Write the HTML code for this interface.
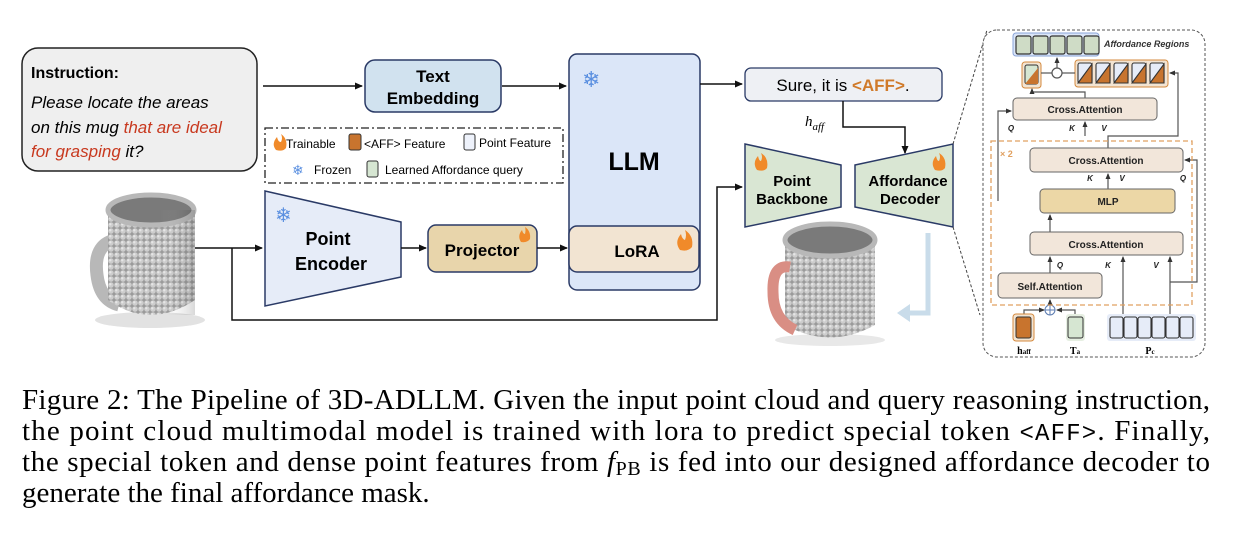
<!DOCTYPE html>
<html><head><meta charset="utf-8"><style>
html,body{margin:0;padding:0;background:#fff;}
svg{display:block;}
.s{font-family:"Liberation Sans",sans-serif;}
.b{font-family:"Liberation Sans",sans-serif;font-weight:bold;}
.cap{font-family:"Liberation Serif",serif;font-size:29px;fill:#000;}
</style></head><body>
<svg width="1243" height="544" viewBox="0 0 1243 544" xmlns="http://www.w3.org/2000/svg">
<defs>
<marker id="ar" markerWidth="8" markerHeight="8" refX="7" refY="4" orient="auto" markerUnits="userSpaceOnUse"><path d="M0,0.5 L8,4 L0,7.5 Z" fill="#111"/></marker>
<marker id="ar2" markerWidth="6" markerHeight="6" refX="5" refY="3" orient="auto" markerUnits="userSpaceOnUse"><path d="M0,0.5 L6,3 L0,5.5 Z" fill="#333"/></marker>
<pattern id="dots" width="6" height="6" patternUnits="userSpaceOnUse"><rect width="6" height="6" fill="#9a9a9a"/><circle cx="3" cy="3" r="2.8" fill="#cdcdcd"/><circle cx="2.3" cy="2.3" r="1.2" fill="#e6e6e6"/></pattern>
<pattern id="pdots" width="6" height="6" patternUnits="userSpaceOnUse"><rect width="6" height="6" fill="#b06a60"/><circle cx="3" cy="3" r="2.6" fill="#e29a8e"/></pattern>
<linearGradient id="sh" x1="0" x2="1"><stop offset="0" stop-color="#fff" stop-opacity="0"/><stop offset="1" stop-color="#000" stop-opacity="0.25"/></linearGradient>
</defs>

<rect x="22" y="48" width="235" height="123" rx="16" fill="#efefef" stroke="#222" stroke-width="1.5"/>
<text x="31" y="78" class="b" font-size="16">Instruction:</text>
<text x="31" y="108" class="s" font-size="17" font-style="italic">Please locate the areas</text>
<text x="31" y="133" class="s" font-size="17" font-style="italic">on this mug <tspan fill="#c8391f">that are ideal</tspan></text>
<text x="31" y="157" class="s" font-size="17" font-style="italic"><tspan fill="#c8391f">for grasping</tspan> it?</text>

<line x1="263" y1="86" x2="362" y2="86" stroke="#111" stroke-width="1.5" marker-end="url(#ar)"/>
<rect x="365" y="60" width="136" height="52" rx="10" fill="#d1e2ef" stroke="#2a3a66" stroke-width="1.5"/>
<text x="433" y="82" class="b" font-size="17" text-anchor="middle">Text</text>
<text x="433" y="104" class="b" font-size="17" text-anchor="middle">Embedding</text>
<line x1="502" y1="86" x2="566" y2="86" stroke="#111" stroke-width="1.5" marker-end="url(#ar)"/>

<rect x="265" y="128" width="298" height="55" fill="none" stroke="#222" stroke-width="1.3" stroke-dasharray="8,3,2,3"/>
<path d="M276,150 q-5,-6 1,-13 q1,5 4,5 q2,-4 0,-8 q7,5 5,14 q-3,4 -10,2z" fill="#f08a2a"/>
<text x="286" y="148" class="s" font-size="12">Trainable</text>
<rect x="349" y="134" width="12" height="16" rx="2" fill="#c8742e" stroke="#333"/>
<text x="364" y="148" class="s" font-size="12">&lt;AFF&gt; Feature</text>
<rect x="464" y="134" width="11" height="16" rx="2" fill="#eef2fb" stroke="#333"/>
<text x="479" y="147" class="s" font-size="12">Point Feature</text>
<text x="292" y="175" font-size="14" fill="#5a8fe0" class="s">❄</text>
<text x="314" y="174" class="s" font-size="12">Frozen</text>
<rect x="367" y="161" width="11" height="16" rx="2" fill="#d6e6d2" stroke="#333"/>
<text x="385" y="174" class="s" font-size="12">Learned Affordance query</text>

<rect x="569" y="54" width="131" height="236" rx="8" fill="#dbe6f8" stroke="#2a3a66" stroke-width="1.5"/>
<text x="582" y="87" font-size="22" fill="#5a8fe0" class="s">❄</text>
<text x="634" y="170" class="b" font-size="25" text-anchor="middle">LLM</text>
<rect x="569" y="226" width="130" height="46" rx="8" fill="#f2e4d2" stroke="#2a3a66" stroke-width="1.5"/>
<text x="637" y="257" class="b" font-size="17" text-anchor="middle">LoRA</text>
<path d="M680,250 q-6,-8 1,-16 q1,5 4,6 q2,-5 0,-10 q9,6 7,17 q-4,5 -12,3z" fill="#f08a2a"/>

<path d="M265,191 L401,222 L401,277 L265,306 Z" fill="#e6ecf8" stroke="#2a3a66" stroke-width="1.5"/>
<text x="275" y="222" font-size="20" fill="#5a8fe0" class="s">❄</text>
<text x="328" y="245" class="b" font-size="18" text-anchor="middle">Point</text>
<text x="331" y="270" class="b" font-size="18" text-anchor="middle">Encoder</text>
<line x1="195" y1="248" x2="262" y2="248" stroke="#111" stroke-width="1.5" marker-end="url(#ar)"/>
<line x1="401" y1="248" x2="426" y2="248" stroke="#111" stroke-width="1.5" marker-end="url(#ar)"/>
<rect x="428" y="225" width="109" height="47" rx="8" fill="#e8d5ab" stroke="#2a3a66" stroke-width="1.5"/>
<text x="482" y="256" class="b" font-size="17" text-anchor="middle">Projector</text>
<path d="M521,242 q-4,-6 1,-12 q1,4 3,4 q1,-4 0,-7 q6,4 5,12 q-3,4 -9,3z" fill="#f08a2a"/>
<line x1="537" y1="248" x2="567" y2="248" stroke="#111" stroke-width="1.5" marker-end="url(#ar)"/>

<polyline points="232,248 232,320 717,320 717,187 742,187" fill="none" stroke="#111" stroke-width="1.5" marker-end="url(#ar)"/>

<line x1="700" y1="84" x2="742" y2="84" stroke="#111" stroke-width="1.5" marker-end="url(#ar)"/>
<rect x="745" y="68" width="197" height="33" rx="6" fill="#eef0f4" stroke="#2a3a66" stroke-width="1.3"/>
<text x="843" y="91" class="s" font-size="17" text-anchor="middle">Sure, it is <tspan fill="#d07a2a" font-weight="bold">&lt;AFF&gt;</tspan>.</text>
<polyline points="843,101 843,127 905,127 905,153" fill="none" stroke="#111" stroke-width="1.5" marker-end="url(#ar)"/>
<text x="805" y="126" font-family="Liberation Serif,serif" font-style="italic" font-size="15">h<tspan font-size="11" dy="4">aff</tspan></text>

<path d="M745,144 L841,165 L841,207 L745,227 Z" fill="#d9e6d3" stroke="#2a3a66" stroke-width="1.5"/>
<path d="M757,170 q-5,-7 1,-14 q1,5 3,5 q2,-4 0,-8 q8,5 6,15 q-3,4 -10,2z" fill="#f08a2a"/>
<text x="792" y="186" class="b" font-size="15" text-anchor="middle">Point</text>
<text x="792" y="204" class="b" font-size="15" text-anchor="middle">Backbone</text>
<path d="M855,165 L953,144 L953,227 L855,207 Z" fill="#d9e6d3" stroke="#2a3a66" stroke-width="1.5"/>
<path d="M935,170 q-5,-7 1,-14 q1,5 3,5 q2,-4 0,-8 q8,5 6,15 q-3,4 -10,2z" fill="#f08a2a"/>
<text x="908" y="186" class="b" font-size="15" text-anchor="middle">Affordance</text>
<text x="910" y="204" class="b" font-size="15" text-anchor="middle">Decoder</text>

<polyline points="928,233 928,313 908,313" fill="none" stroke="#c9dcea" stroke-width="5"/>
<path d="M897,313 L910,304 L910,322 Z" fill="#c9dcea"/>

<line x1="953" y1="144" x2="987" y2="30" stroke="#444" stroke-width="1" stroke-dasharray="3,2"/>
<line x1="953" y1="227" x2="980" y2="315" stroke="#444" stroke-width="1" stroke-dasharray="3,2"/>

<ellipse cx="150" cy="320" rx="55" ry="8" fill="#e2e2e2"/>
<path d="M115,240 q-22,5 -18,35 q3,25 22,30" fill="none" stroke="#b8b8b8" stroke-width="13"/>
<path d="M108,210 L108,300 Q150,330 195,300 L195,210 Z" fill="url(#dots)"/>
<ellipse cx="151" cy="210" rx="43" ry="15" fill="#7a7a7a" stroke="#b8b8b8" stroke-width="5"/>
<rect x="160" y="210" width="35" height="105" fill="url(#sh)" opacity="0.6"/>

<ellipse cx="830" cy="340" rx="55" ry="6" fill="#e8e8e8"/>
<path d="M785,240 L785,325 Q830,350 875,325 L875,240 Z" fill="url(#dots)"/>
<ellipse cx="830" cy="240" rx="45" ry="16" fill="#7a7a7a" stroke="#b8b8b8" stroke-width="5"/>
<path d="M790,267 q-18,-3 -17,25 q0,28 22,38" fill="none" stroke="#d98e84" stroke-width="11"/>

<rect x="983" y="30" width="222" height="327" rx="14" fill="#fff" stroke="#555" stroke-width="1" stroke-dasharray="3,2"/>
<rect x="1013" y="33" width="86" height="23" rx="3" fill="#dbe6f8" stroke="#8aa4d8"/>
<g stroke="#333" stroke-width="1.2">
<rect x="1016" y="36" width="15" height="18" rx="2" fill="#cfdcc6"/>
<rect x="1033" y="36" width="15" height="18" rx="2" fill="#cfdcc6"/>
<rect x="1050" y="36" width="15" height="18" rx="2" fill="#cfdcc6"/>
<rect x="1067" y="36" width="15" height="18" rx="2" fill="#cfdcc6"/>
<rect x="1084" y="36" width="15" height="18" rx="2" fill="#cfdcc6"/>
</g>
<text x="1104" y="47" class="b" font-size="9" font-style="italic" fill="#333">Affordance Regions</text>
<rect x="1022" y="62" width="19" height="26" rx="3" fill="#f3e4d2" stroke="#d48a3e"/>
<rect x="1025" y="65" width="13" height="19" rx="2" fill="#d6e6d2" stroke="#333"/>
<path d="M1025,84 L1038,68 L1038,84 Z" fill="#c8742e"/>
<rect x="1075" y="60" width="93" height="27" rx="3" fill="#f3e4d2" stroke="#d48a3e"/>
<g stroke="#333" stroke-width="1.1">
<rect x="1078" y="63" width="14" height="20" rx="2" fill="#e6ecf8"/><path d="M1078,83 L1092,64 L1092,83Z" fill="#c8742e"/>
<rect x="1096" y="63" width="14" height="20" rx="2" fill="#e6ecf8"/><path d="M1096,83 L1110,64 L1110,83Z" fill="#c8742e"/>
<rect x="1114" y="63" width="14" height="20" rx="2" fill="#e6ecf8"/><path d="M1114,83 L1128,64 L1128,83Z" fill="#c8742e"/>
<rect x="1132" y="63" width="14" height="20" rx="2" fill="#e6ecf8"/><path d="M1132,83 L1146,64 L1146,83Z" fill="#c8742e"/>
<rect x="1150" y="63" width="14" height="20" rx="2" fill="#e6ecf8"/><path d="M1150,83 L1164,64 L1164,83Z" fill="#c8742e"/>
</g>
<g fill="none" stroke="#555" stroke-width="1.2">
<line x1="1041" y1="73" x2="1052" y2="73"/><line x1="1062" y1="73" x2="1075" y2="73"/>
<circle cx="1057" cy="73" r="5" fill="#fff"/>
<line x1="1057" y1="68" x2="1057" y2="58" marker-end="url(#ar2)"/>
<polyline points="1085,98 1085,92 1032,92 1032,89" marker-end="url(#ar2)"/>
<polyline points="998,201 998,111 1011,111" marker-end="url(#ar2)"/>
<line x1="1085" y1="136" x2="1085" y2="122" marker-end="url(#ar2)"/>
<polyline points="1108,148 1108,136 1178,136 1178,73 1170,73" marker-end="url(#ar2)"/>
<line x1="1108" y1="189" x2="1108" y2="174" marker-end="url(#ar2)"/>
<line x1="1050" y1="232" x2="1050" y2="215" marker-end="url(#ar2)"/>
<line x1="1050" y1="273" x2="1050" y2="257" marker-end="url(#ar2)"/>
<line x1="1050" y1="305" x2="1050" y2="300" marker-end="url(#ar2)"/>
<polyline points="1024,315 1024,310 1044,310" marker-end="url(#ar2)"/>
<polyline points="1075,315 1075,310 1057,310" marker-end="url(#ar2)"/>
<line x1="1123" y1="315" x2="1123" y2="257" marker-end="url(#ar2)"/>
<line x1="1170" y1="315" x2="1170" y2="257" marker-end="url(#ar2)"/>
<polyline points="1170,282 1197,282 1197,160 1185,160" marker-end="url(#ar2)"/>
</g>
<circle cx="1050" cy="310" r="5" fill="#fff" stroke="#5a7ab0" stroke-width="1"/>
<path d="M1045,310 H1055 M1050,305 V315" stroke="#5a7ab0" stroke-width="1"/>
<rect x="991" y="141" width="201" height="164" fill="none" stroke="#e0a060" stroke-width="1.3" stroke-dasharray="5,3"/>
<text x="1000" y="157" class="b" font-size="9" fill="#e0a060">× 2</text>
<g stroke="#666" stroke-width="1">
<rect x="1013" y="98" width="144" height="22" rx="4" fill="#f2e6da"/>
<rect x="1030" y="148" width="153" height="24" rx="4" fill="#f2e6da"/>
<rect x="1040" y="189" width="135" height="24" rx="4" fill="#ecd7a6"/>
<rect x="1030" y="232" width="153" height="23" rx="4" fill="#f2e6da"/>
<rect x="998" y="273" width="104" height="25" rx="4" fill="#f2e6da"/>
</g>
<g class="b" font-size="10" fill="#222" text-anchor="middle">
<text x="1085" y="113">Cross.Attention</text>
<text x="1106" y="164">Cross.Attention</text>
<text x="1108" y="205">MLP</text>
<text x="1106" y="248">Cross.Attention</text>
<text x="1050" y="290">Self.Attention</text>
</g>
<g class="b" font-size="8" font-style="italic" fill="#222" text-anchor="middle">
<text x="1011" y="131">Q</text><text x="1072" y="131">K</text><text x="1104" y="131">V</text>
<text x="1090" y="181">K</text><text x="1122" y="181">V</text><text x="1183" y="181">Q</text>
<text x="1060" y="268">Q</text><text x="1108" y="268">K</text><text x="1156" y="268">V</text>
</g>
<rect x="1013" y="314" width="21" height="27" rx="3" fill="#f3e4d2" stroke="#d48a3e"/>
<rect x="1016" y="317" width="15" height="21" rx="2" fill="#c8742e" stroke="#333"/>
<rect x="1066" y="314" width="19" height="27" rx="3" fill="#e6efe2"/>
<rect x="1068" y="317" width="15" height="21" rx="2" fill="#d6e6d2" stroke="#333"/>
<rect x="1107" y="314" width="89" height="27" rx="3" fill="#e6ecf8"/>
<g stroke="#333" stroke-width="1.1" fill="#e6ecf8">
<rect x="1110" y="317" width="13" height="21" rx="2"/><rect x="1124" y="317" width="13" height="21" rx="2"/><rect x="1138" y="317" width="13" height="21" rx="2"/><rect x="1152" y="317" width="13" height="21" rx="2"/><rect x="1166" y="317" width="13" height="21" rx="2"/><rect x="1180" y="317" width="13" height="21" rx="2"/>
</g>
<g font-family="Liberation Serif,serif" font-weight="bold" font-size="10" text-anchor="middle">
<text x="1024" y="354">h<tspan font-size="7">aff</tspan></text>
<text x="1075" y="354">T<tspan font-size="7">a</tspan></text>
<text x="1150" y="354">P<tspan font-size="7">c</tspan></text>
</g>

<text x="22" y="409" class="cap" textLength="1188" lengthAdjust="spacing">Figure 2: The Pipeline of 3D-ADLLM. Given the input point cloud and query reasoning instruction,</text>
<text x="22" y="440" class="cap" textLength="1188" lengthAdjust="spacing">the point cloud multimodal model is trained with lora to predict special token <tspan font-family="Liberation Mono,monospace" font-size="24">&lt;AFF&gt;</tspan>.  Finally,</text>
<text x="22" y="471" class="cap" textLength="1188" lengthAdjust="spacing">the special token and dense point features from <tspan font-style="italic">f</tspan><tspan font-size="20" dy="4">PB</tspan><tspan dy="-4"> is fed into our designed affordance decoder to</tspan></text>
<text x="22" y="502" class="cap">generate the final affordance mask.</text>
</svg>
</body></html>
